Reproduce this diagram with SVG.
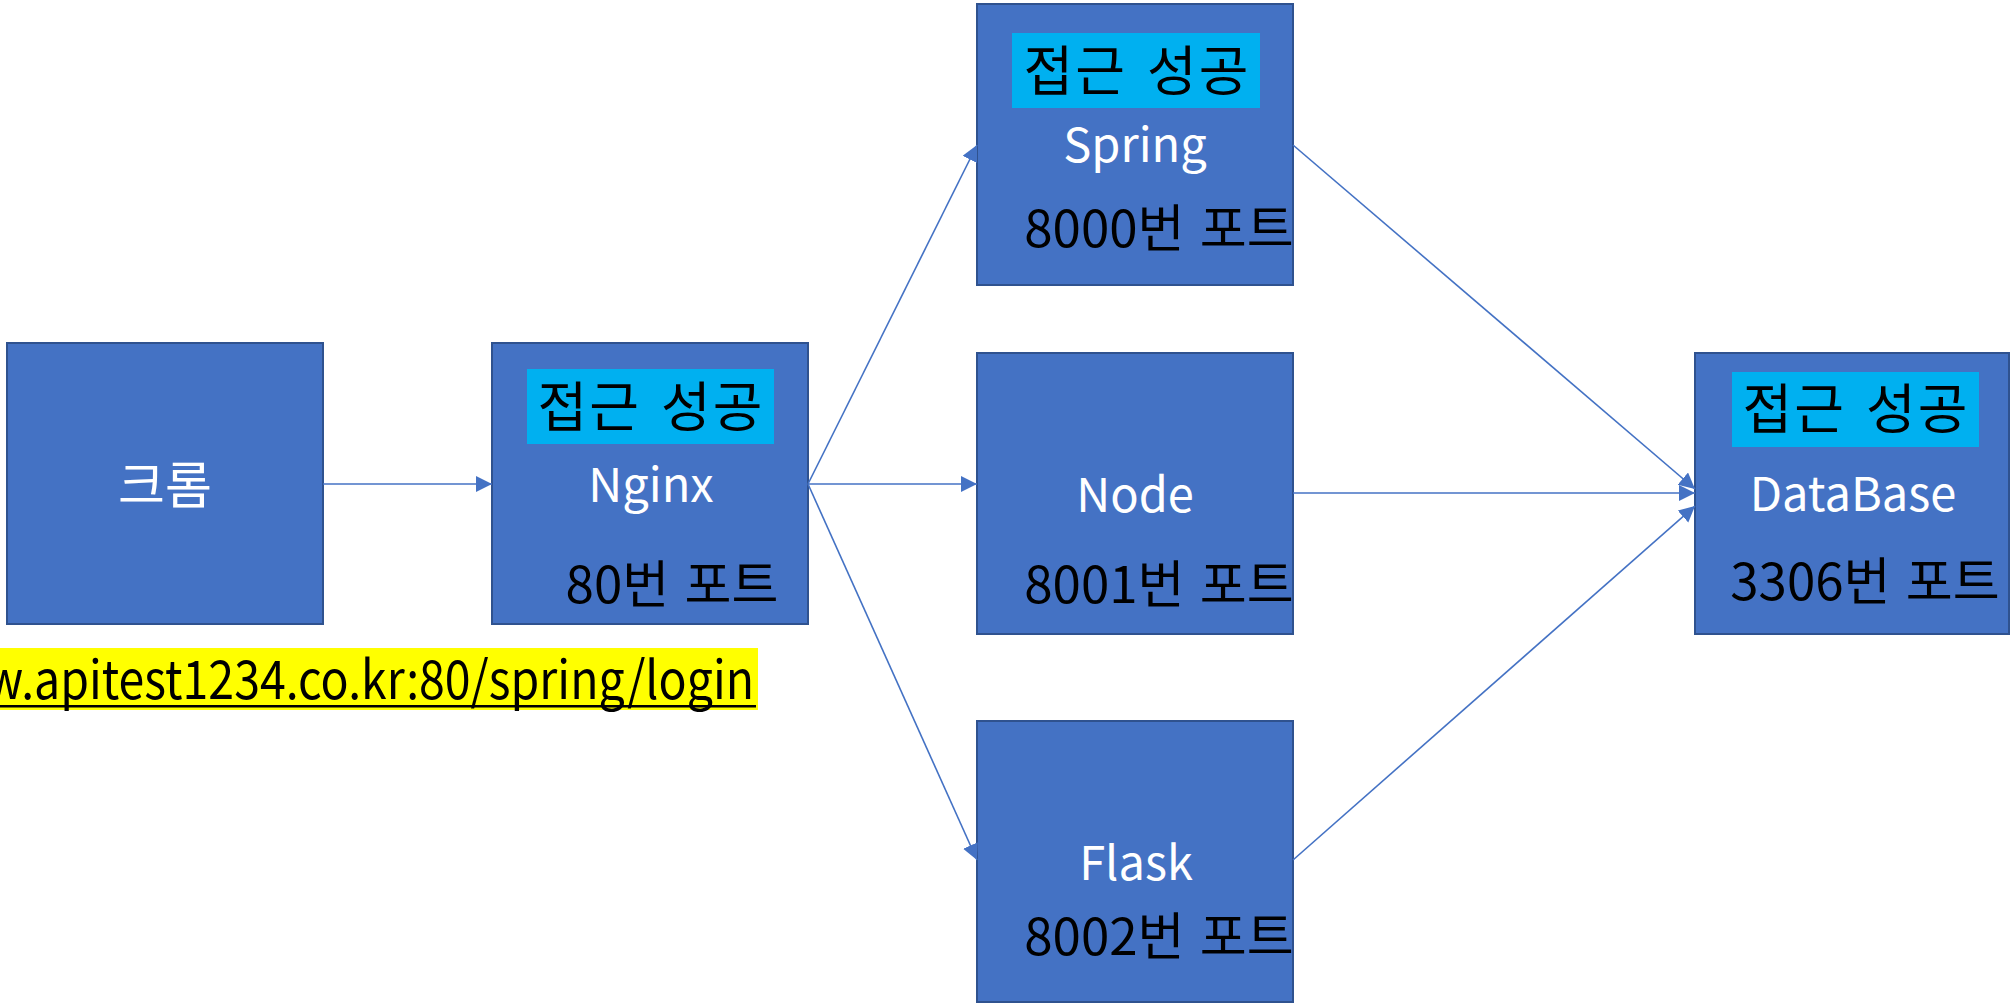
<svg xmlns="http://www.w3.org/2000/svg" width="2012" height="1004" viewBox="0 0 2012 1004">
<defs>
<style>
.box{fill:#4472C4;stroke:#2F528F;stroke-width:2}
.hl{fill:#00B0F0}
.t{font-family:"Noto Sans CJK KR","Noto Sans",sans-serif;text-anchor:middle}
.en{font-size:47px;fill:#FFFFFF}
.ok{font-size:54px;letter-spacing:2px;word-spacing:6px;fill:#000000}
.port{font-size:51px;word-spacing:4px;fill:#000000}
.kr{font-size:51px;fill:#FFFFFF}
.con{stroke:#4472C4;stroke-width:1.6;fill:none;marker-end:url(#arr)}
</style>
<marker id="arr" markerUnits="userSpaceOnUse" markerWidth="18" markerHeight="18" refX="16" refY="8" orient="auto">
<path d="M0,0 L16,8 L0,16 z" fill="#4472C4"/>
</marker>
</defs>
<rect width="2012" height="1004" fill="#FFFFFF"/>

<g id="chrome">
<rect class="box" x="7" y="343" width="316" height="281"/>
<text class="t kr" x="165" y="504">크롬</text>
</g>

<g id="url">
<rect x="0" y="648" width="758" height="62" fill="#FFFF00"/>
<text x="-14" y="699" font-family="'Noto Sans CJK KR','Noto Sans',sans-serif" font-size="53" fill="#000000" textLength="768" lengthAdjust="spacingAndGlyphs">w.apitest1234.co.kr:80/spring/login</text>
<rect x="0" y="705" width="756" height="2.5" fill="#000000"/>
</g>

<g id="nginx">
<rect class="box" x="492" y="343" width="316" height="281"/>
<rect class="hl" x="527" y="369" width="247" height="75"/>
<text class="t ok" x="651" y="427">접근 성공</text>
<text class="t en" x="651" y="502">Nginx</text>
<text class="t port" x="672" y="603">80번 포트</text>
</g>

<g id="spring">
<rect class="box" x="977" y="4" width="316" height="281"/>
<rect class="hl" x="1012" y="33" width="248" height="75"/>
<text class="t ok" x="1137" y="91">접근 성공</text>
<text class="t en" x="1135" y="162">Spring</text>
<text class="t port" x="1159" y="247">8000번 포트</text>
</g>

<g id="node">
<rect class="box" x="977" y="353" width="316" height="281"/>
<text class="t en" x="1135" y="512">Node</text>
<text class="t port" x="1159" y="603">8001번 포트</text>
</g>

<g id="flask">
<rect class="box" x="977" y="721" width="316" height="281"/>
<text class="t en" x="1136" y="880">Flask</text>
<text class="t port" x="1159" y="955">8002번 포트</text>
</g>

<g id="database">
<rect class="box" x="1695" y="353" width="314" height="281"/>
<rect class="hl" x="1732" y="372" width="247" height="75"/>
<text class="t ok" x="1856" y="429">접근 성공</text>
<text class="t en" x="1853" y="511">DataBase</text>
<text class="t port" x="1865" y="600">3306번 포트</text>
</g>

<g id="connectors">
<line class="con" x1="323" y1="484" x2="492" y2="484"/>
<line class="con" x1="808" y1="484" x2="977" y2="145"/>
<line class="con" x1="808" y1="484" x2="977" y2="484"/>
<line class="con" x1="808" y1="484" x2="977" y2="860"/>
<line class="con" x1="1293" y1="145" x2="1695" y2="489"/>
<line class="con" x1="1293" y1="493" x2="1695" y2="493"/>
<line class="con" x1="1293" y1="860" x2="1695" y2="506"/>
</g>
</svg>
